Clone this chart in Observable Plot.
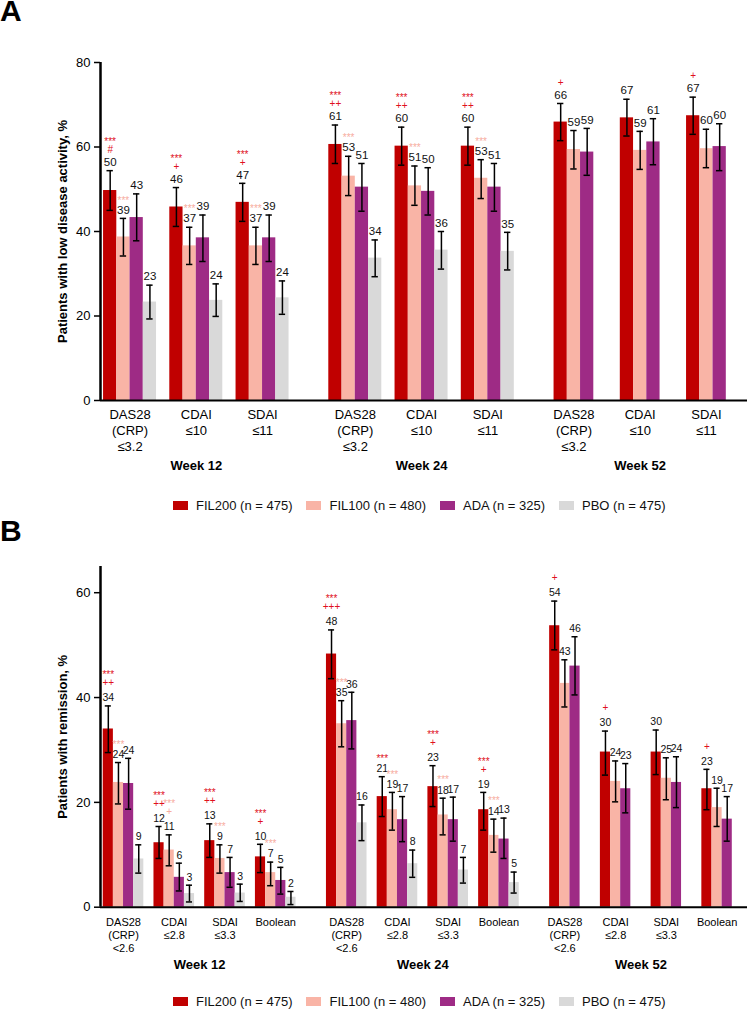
<!DOCTYPE html>
<html><head><meta charset="utf-8">
<script src="https://cdn.jsdelivr.net/npm/d3@7"></script>
<script src="https://cdn.jsdelivr.net/npm/@observablehq/plot@0.6"></script>
<style>
body{margin:0;background:#fff;font-family:"Liberation Sans",Arial,sans-serif;}
#root{position:relative;width:747px;height:1010px;overflow:hidden;}
.abs{position:absolute;}
.letter{font-size:30px;font-weight:bold;line-height:22px;}
.legend{display:flex;font-size:13px;line-height:15px;white-space:nowrap;color:#111;}
.legend .item{display:flex;align-items:center;margin-right:14px;}
.legend .sw{width:15px;height:9px;margin-right:8px;}
</style></head><body><div id="root"></div>
<script>
// ---------- shared ----------
const seriesKeys = ["FIL200", "FIL100", "ADA", "PBO"];
const seriesLabels = ["FIL200 (n = 475)", "FIL100 (n = 480)", "ADA (n = 325)", "PBO (n = 475)"];
const seriesColors = ["#c00000", "#f9b4a6", "#9e2b85", "#d9d9d9"];
const weeks = ["Week 12", "Week 24", "Week 52"];

// ---------- Panel A: low disease activity ----------
const measuresA = ["DAS28\n(CRP)\n≤3.2", "CDAI\n≤10", "SDAI\n≤11"];
const a_FIL200 = [49.7, 45.8, 46.9, 60.6, 60.2, 60.2, 65.9, 66.9, 67.4];
const a_FIL100 = [38.7, 36.6, 36.6, 53.1, 50.8, 52.6, 59.4, 59.2, 59.6];
const a_ADA    = [43.3, 38.5, 38.5, 50.5, 49.5, 50.5, 58.8, 61.2, 60.1];
const a_PBO    = [23.3, 23.7, 24.3, 33.7, 35.6, 35.3, null, null, null];
const a_FIL200_lo = [45.0, 41.2, 42.4, 56.1, 55.7, 55.7, 61.5, 62.6, 63.0];
const a_FIL200_hi = [54.4, 50.4, 51.4, 65.2, 64.7, 64.7, 70.3, 71.3, 71.8];
const a_FIL100_lo = [34.2, 32.2, 32.2, 48.5, 46.2, 47.8, 54.8, 54.7, 55.1];
const a_FIL100_hi = [43.1, 41.0, 41.0, 57.8, 55.5, 57.0, 63.9, 63.7, 64.2];
const a_ADA_lo    = [37.8, 32.9, 32.9, 44.8, 43.9, 44.8, 53.3, 55.8, 54.4];
const a_ADA_hi    = [48.9, 43.9, 43.9, 56.1, 55.1, 56.1, 64.4, 66.7, 65.5];
const a_PBO_lo    = [19.3, 19.9, 20.4, 29.3, 31.1, 30.9, null, null, null];
const a_PBO_hi    = [27.3, 27.6, 28.3, 38.0, 40.0, 39.8, null, null, null];
const a_FIL200_stars = ["***", "***", "***", "***", "***", "***", "", "", ""];
const a_FIL200_plus  = ["#", "+", "+", "++", "++", "++", "+", "", "+"];
const a_FIL100_stars = ["***", "***", "***", "***", "***", "***", "", "", ""];
const a_FIL100_plus  = ["", "", "", "", "", "", "", "", ""];
const a_yTicks = [0, 20, 40, 60, 80];

// ---------- Panel B: remission ----------
const measuresB = ["DAS28\n(CRP)\n<2.6", "CDAI\n≤2.8", "SDAI\n≤3.3", "Boolean"];
const b_FIL200 = [34.0, 12.3, 12.7, 9.6, 48.3, 21.1, 23.0, 18.6, 53.7, 29.6, 29.6, 22.6];
const b_FIL100 = [23.8, 10.9, 9.3, 6.6, 35.0, 18.6, 17.6, 13.7, 42.7, 24.0, 24.6, 19.0];
const b_ADA    = [23.6, 5.7, 6.6, 5.1, 35.6, 16.7, 16.7, 13.0, 46.0, 22.6, 23.8, 16.8];
const b_PBO    = [9.2, 2.6, 2.7, 1.9, 16.1, 8.3, 7.1, 4.7, null, null, null, null];
const b_FIL200_lo = [29.5, 9.3, 9.5, 6.6, 43.6, 17.3, 19.2, 14.7, 49.1, 25.2, 25.3, 18.6];
const b_FIL200_hi = [38.4, 15.4, 15.9, 12.0, 52.9, 24.9, 27.0, 21.9, 58.4, 33.6, 33.8, 26.3];
const b_FIL100_lo = [19.7, 7.9, 6.5, 4.1, 30.6, 14.7, 13.8, 10.5, 38.2, 20.1, 20.5, 15.4];
const b_FIL100_hi = [27.6, 13.8, 11.9, 8.6, 39.4, 21.9, 20.8, 16.8, 47.2, 27.9, 28.5, 22.7];
const b_ADA_lo    = [18.7, 3.1, 3.8, 2.5, 30.2, 12.5, 12.6, 9.3, 40.5, 18.0, 19.0, 12.6];
const b_ADA_hi    = [28.4, 8.4, 9.5, 7.6, 41.0, 21.1, 21.0, 17.0, 51.6, 27.4, 28.7, 21.1];
const b_PBO_lo    = [6.5, 1.0, 1.1, 0.5, 12.7, 5.7, 4.6, 2.7, null, null, null, null];
const b_PBO_hi    = [11.9, 4.2, 4.4, 3.0, 19.5, 10.9, 9.5, 6.7, null, null, null, null];
const b_FIL200_stars = ["***", "***", "***", "***", "***", "***", "***", "***", "", "", "", ""];
const b_FIL200_plus  = ["++", "++", "++", "+", "+++", "", "+", "+", "+", "+", "", "+"];
const b_FIL100_stars = ["***", "***", "***", "***", "***", "***", "***", "***", "", "", "", ""];
const b_FIL100_plus  = ["", "+", "", "", "", "", "", "", "", "", "", ""];
const b_yTicks = [0, 20, 40, 60];

const RED = "#e0101c", PINK = "#f7ad9f";
const FONT = "'Liberation Sans', Arial, sans-serif";

function buildPanel(cfg) {
  const nM = cfg.measures.length;
  const step = nM * 5 + 2;
  const rows = [], ticks = [], weekRows = [], ann = [];
  weeks.forEach((w, wi) => {
    let wStart = wi * step, wEnd = wStart;
    cfg.measures.forEach((m, mi) => {
      const idx = wi * nM + mi;
      const start = wStart + mi * 5;
      let nb = 0;
      seriesKeys.forEach((s, si) => {
        const v = cfg.values[si][idx];
        if (v == null) return;
        nb++;
        rows.push({key: s, v, y0: 0, lo: cfg.lo[si][idx], hi: cfg.hi[si][idx],
          x1: start + si, x2: start + si + 1, xc: start + si + 0.5, label: String(Math.round(v))});
      });
      wEnd = start + nb;
      ticks.push({xc: start + nb / 2, label: m});
      [[0, cfg.redStars, cfg.redPlus, RED], [1, cfg.pinkStars, cfg.pinkPlus, PINK]].forEach(([si, st, pl, col]) => {
        const hasPlus = pl[idx] !== "";
        const r = {xc: start + si + 0.5, hi: cfg.hi[si][idx], col};
        if (st[idx]) ann.push({...r, t: st[idx], kind: hasPlus ? "starsHigh" : "starsLow"});
        if (hasPlus) ann.push({...r, t: pl[idx], kind: "plus"});
      });
    });
    weekRows.push({xc: (wStart + wEnd) / 2, label: w});
  });
  const cap = cfg.cap;
  const o = cfg.off;
  return Plot.plot({
    width: 747, height: cfg.height,
    marginLeft: 100, marginRight: 0, marginTop: cfg.marginTop, marginBottom: cfg.marginBottom,
    style: {fontFamily: FONT, fontSize: "13px", color: "black", background: "white", overflow: "visible"},
    x: {domain: cfg.xDomain, axis: null},
    y: {domain: cfg.yDomain, axis: null},
    color: {domain: seriesKeys, range: seriesColors},
    marks: [
      Plot.rect(rows, {x1: "x1", x2: "x2", y1: "y0", y2: "v", fill: "key"}),
      Plot.ruleX(rows, {x: "xc", y1: "lo", y2: "hi", stroke: "black", strokeWidth: 1.5}),
      Plot.ruleY(rows, {x1: d => d.xc - cap, x2: d => d.xc + cap, y: "hi", stroke: "black", strokeWidth: 1.5}),
      Plot.ruleY(rows, {x1: d => d.xc - cap, x2: d => d.xc + cap, y: "lo", stroke: "black", strokeWidth: 1.5}),
      Plot.text(rows, {x: "xc", y: "hi", text: "label", dy: o.value, fontSize: cfg.valueFont, fill: "#111"}),
      Plot.text(ann.filter(d => d.kind === "plus"), {x: "xc", y: "hi", text: "t", fill: "col", dy: o.plus, fontSize: 10}),
      Plot.text(ann.filter(d => d.kind === "starsHigh"), {x: "xc", y: "hi", text: "t", fill: "col", dy: o.starsHigh, fontSize: 10}),
      Plot.text(ann.filter(d => d.kind === "starsLow"), {x: "xc", y: "hi", text: "t", fill: "col", dy: o.starsLow, fontSize: 10}),
      Plot.ruleY([0], {stroke: "black", strokeWidth: 2}),
      Plot.ruleX([cfg.xDomain[0]], {stroke: "black", strokeWidth: 2.5}),
      Plot.axisY({ticks: cfg.yTicks, tickSize: 6, tickPadding: 4, fontSize: 13, label: null, strokeWidth: 1.5}),
      Plot.text([cfg.yLabel], {frameAnchor: "left", dx: -37.5, rotate: -90, textAnchor: "middle", fontWeight: "bold", fontSize: 13}),
      Plot.text(ticks, {x: "xc", text: "label", frameAnchor: "bottom", lineAnchor: "top", dy: cfg.tickDy, lineHeight: cfg.tickLH, fontSize: cfg.tickFont}),
      Plot.text(weekRows, {x: "xc", text: "label", frameAnchor: "bottom", dy: cfg.weekDy, fontWeight: "bold", fontSize: 13})
    ]
  });
}

const root = document.getElementById("root");

const svgA = buildPanel({
  measures: measuresA,
  values: [a_FIL200, a_FIL100, a_ADA, a_PBO],
  lo: [a_FIL200_lo, a_FIL100_lo, a_ADA_lo, a_PBO_lo],
  hi: [a_FIL200_hi, a_FIL100_hi, a_ADA_hi, a_PBO_hi],
  redStars: a_FIL200_stars, redPlus: a_FIL200_plus, pinkStars: a_FIL100_stars, pinkPlus: a_FIL100_plus,
  height: 485, marginTop: 62, marginBottom: 85,
  xDomain: [-0.23, 48.6], yDomain: [0, 80], yTicks: a_yTicks,
  yLabel: "Patients with low disease activity, %",
  cap: 0.24, valueFont: 11.5,
  off: {value: -8.5, plus: -21, starsHigh: -29, starsLow: -18},
  tickDy: 7, tickLH: 1.23, tickFont: 13, weekDy: 69
});
svgA.style.position = "absolute"; svgA.style.left = "0px"; svgA.style.top = "0px";
root.appendChild(svgA);

const svgB = buildPanel({
  measures: measuresB,
  values: [b_FIL200, b_FIL100, b_ADA, b_PBO],
  lo: [b_FIL200_lo, b_FIL100_lo, b_ADA_lo, b_PBO_lo],
  hi: [b_FIL200_hi, b_FIL100_hi, b_ADA_hi, b_PBO_hi],
  redStars: b_FIL200_stars, redPlus: b_FIL200_plus, pinkStars: b_FIL100_stars, pinkPlus: b_FIL100_plus,
  height: 460, marginTop: 46, marginBottom: 73.3,
  xDomain: [-0.27, 63.5], yDomain: [0, 65], yTicks: b_yTicks,
  yLabel: "Patients with remission, %",
  cap: 0.3, valueFont: 10.5,
  off: {value: -8, plus: -23, starsHigh: -31, starsLow: -18},
  tickDy: 9, tickLH: 1.2, tickFont: 11, weekDy: 61.5
});
svgB.style.position = "absolute"; svgB.style.left = "0px"; svgB.style.top = "520px";
root.appendChild(svgB);

// panel letters
[["A", 0], ["B", 520]].forEach(([t, top]) => {
  d3.select(root).append("div").attr("class", "abs letter").style("left", "0px").style("top", top + "px").text(t);
});

// legends
[497.5, 994].forEach(top => {
  const lg = d3.select(root).append("div").attr("class", "abs legend").style("left", "173px").style("top", top + "px");
  seriesKeys.forEach((k, i) => {
    const it = lg.append("div").attr("class", "item");
    it.append("span").attr("class", "sw").style("background", seriesColors[i]);
    it.append("span").text(seriesLabels[i]);
  });
});
</script></body></html>
